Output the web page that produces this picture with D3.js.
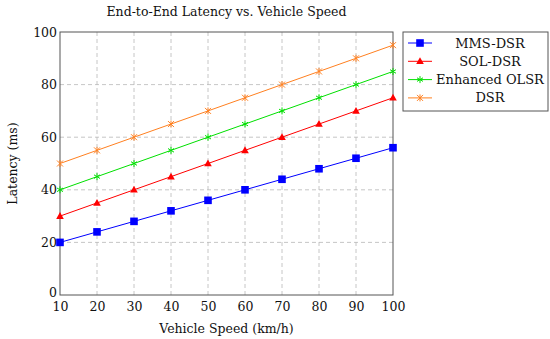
<!DOCTYPE html>
<html>
<head>
<meta charset="utf-8">
<script src="https://cdn.jsdelivr.net/npm/d3@7"></script>
<style>
  body { margin: 0; background: #fff; }
  svg text { font-family: "DejaVu Serif", serif; fill: #111; }
</style>
</head>
<body>
<div id="chart"></div>
<script>
var speeds = [10, 20, 30, 40, 50, 60, 70, 80, 90, 100];
var mmsDsr = [20, 24, 28, 32, 36, 40, 44, 48, 52, 56];
var solDsr = [30, 35, 40, 45, 50, 55, 60, 65, 70, 75];
var enhancedOlsr = [40, 45, 50, 55, 60, 65, 70, 75, 80, 85];
var dsr = [50, 55, 60, 65, 70, 75, 80, 85, 90, 95];
var xTicks = [10, 20, 30, 40, 50, 60, 70, 80, 90, 100];
var yTicks = [0, 20, 40, 60, 80, 100];

var series = [
  {name: "MMS-DSR", values: mmsDsr, color: "#0000ff", marker: "square"},
  {name: "SOL-DSR", values: solDsr, color: "#ff0000", marker: "triangle"},
  {name: "Enhanced OLSR", values: enhancedOlsr, color: "#00e000", marker: "star"},
  {name: "DSR", values: dsr, color: "#ff8020", marker: "cross"}
];

var FONT = "DejaVu Serif";

var margin = {top: 32, right: 157, bottom: 44, left: 60},
    width = 550 - margin.left - margin.right,
    height = 339 - margin.top - margin.bottom;

var svg = d3.select("#chart")
  .append("svg")
    .attr("width", 550)
    .attr("height", 339)
    .attr("font-family", FONT);

var g = svg.append("g")
    .attr("transform", "translate(" + margin.left + "," + margin.top + ")");

var x = d3.scaleLinear().domain([10, 100]).range([0, width]);
var y = d3.scaleLinear().domain([0, 100]).range([height, 0]);

// grid
g.append("g").selectAll("line")
  .data(xTicks.slice(1, -1))
  .enter().append("line")
    .attr("x1", d => x(d)).attr("x2", d => x(d))
    .attr("y1", 0).attr("y2", height)
    .attr("stroke", "#b8b8b8").attr("stroke-width", 0.8)
    .attr("stroke-dasharray", "4,3");

g.append("g").selectAll("line")
  .data(yTicks.slice(1, -1))
  .enter().append("line")
    .attr("y1", d => y(d)).attr("y2", d => y(d))
    .attr("x1", 0).attr("x2", width)
    .attr("stroke", "#b8b8b8").attr("stroke-width", 0.8)
    .attr("stroke-dasharray", "4,3");

// axes
var xAxis = g.append("g")
  .attr("transform", "translate(0," + height + ")")
  .call(d3.axisBottom(x).tickValues(xTicks).tickSize(0).tickPadding(7));
xAxis.attr("font-family", FONT).attr("font-size", 12.5);
xAxis.select(".domain").remove();

var yAxis = g.append("g")
  .call(d3.axisLeft(y).tickValues(yTicks).tickSize(0).tickPadding(3));
yAxis.attr("font-family", FONT).attr("font-size", 12.5);
yAxis.select(".domain").remove();
// the 0 label sits a little higher, as in the reference
yAxis.selectAll(".tick text").filter(d => d === 0).attr("dy", "0.1em");

g.append("rect")
  .attr("width", width).attr("height", height)
  .attr("fill", "none").attr("stroke", "#555").attr("stroke-width", 1);

// lines
var line = d3.line()
  .x((d, i) => x(speeds[i]))
  .y(d => y(d));

function drawMarker(sel, type, color) {
  if (type === "square") {
    sel.append("rect").attr("x", -3.8).attr("y", -3.8).attr("width", 7.6).attr("height", 7.6)
      .attr("fill", color);
  } else if (type === "triangle") {
    sel.append("path").attr("d", "M0,-4L3.8,2.8L-3.8,2.8Z").attr("fill", color);
  } else if (type === "star") {
    sel.append("path").attr("d", "M0,-3.5L0,3.5M-3,-1.8L3,1.8M-3,1.8L3,-1.8")
      .attr("stroke", color).attr("stroke-width", 1);
  } else {
    sel.append("path").attr("d", "M-3,-3L3,3M-3,3L3,-3M0,-3.5L0,3.5")
      .attr("stroke", color).attr("stroke-width", 1);
  }
}

series.forEach(function(s) {
  g.append("path")
    .datum(s.values)
    .attr("d", line)
    .attr("fill", "none")
    .attr("stroke", s.color)
    .attr("stroke-width", 1);

  g.append("g").selectAll("g")
    .data(s.values)
    .enter().append("g")
      .attr("transform", (d, i) => "translate(" + x(speeds[i]) + "," + y(d) + ")")
      .each(function() { drawMarker(d3.select(this), s.marker, s.color); });
});

// title and labels
svg.append("text")
  .attr("x", margin.left + width / 2)
  .attr("y", 16)
  .attr("text-anchor", "middle")
  .attr("font-size", 12.5)
  .text("End-to-End Latency vs. Vehicle Speed");

svg.append("text")
  .attr("x", margin.left + width / 2)
  .attr("y", 333)
  .attr("text-anchor", "middle")
  .attr("font-size", 12.5)
  .text("Vehicle Speed (km/h)");

svg.append("text")
  .attr("transform", "rotate(-90)")
  .attr("x", -(margin.top + height / 2))
  .attr("y", 17)
  .attr("text-anchor", "middle")
  .attr("font-size", 12.5)
  .text("Latency (ms)");

// legend
var legend = svg.append("g").attr("transform", "translate(403,32)");
legend.append("rect")
  .attr("width", 145).attr("height", 79)
  .attr("fill", "#fff").attr("stroke", "#555").attr("stroke-width", 1);

series.forEach(function(s, i) {
  var ly = 11 + i * 18.3;
  legend.append("line")
    .attr("x1", 5).attr("x2", 29).attr("y1", ly).attr("y2", ly)
    .attr("stroke", s.color).attr("stroke-width", 1);
  var m = legend.append("g").attr("transform", "translate(17," + ly + ")");
  drawMarker(m, s.marker, s.color);
  legend.append("text")
    .attr("x", 87).attr("y", ly + 4.5)
    .attr("text-anchor", "middle")
    .attr("font-size", 13)
    .text(s.name);
});
</script>
</body>
</html>
